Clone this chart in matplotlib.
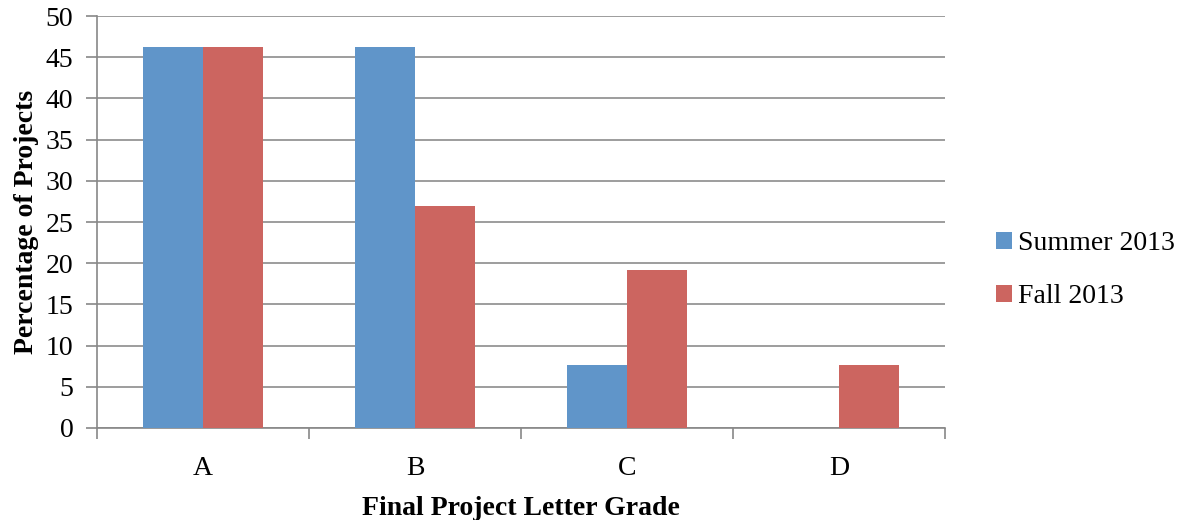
import matplotlib.pyplot as plt
import numpy as np

grades = ['A', 'B', 'C', 'D']
summer_2013 = [46.2, 46.2, 7.7, 0]
fall_2013 = [46.2, 26.9, 19.2, 7.7]

plt.rcParams['font.family'] = ['Liberation Serif', 'DejaVu Serif']

fig = plt.figure(figsize=(11.8, 5.2), dpi=100)
ax = fig.add_axes([0.0822, 0.177, 0.7186, 0.792])

x = np.arange(len(grades))
w = 0.283
ax.bar(x - w / 2, summer_2013, w, color='#6095c9', label='Summer 2013', zorder=3)
ax.bar(x + w / 2, fall_2013, w, color='#cc6560', label='Fall 2013', zorder=3)

ax.set_xlim(-0.5, 3.5)
ax.set_ylim(0, 50)
ax.set_yticks(np.arange(0, 51, 5))
ax.set_xticks(x)
ax.set_xticklabels(grades)
ax.set_xticks(np.arange(-0.5, 4, 1), minor=True)
ax.tick_params(axis='x', which='major', length=0, pad=20, labelsize=20)
ax.tick_params(axis='x', which='minor', length=8, direction='out', color='#888888', width=1.2)
ax.tick_params(axis='y', length=8, color='#888888', width=1.2, labelsize=20, pad=9)
ax.grid(axis='y', color='#8c8c8c', linewidth=1.2, zorder=0)

for s in ['top', 'right']:
    ax.spines[s].set_visible(False)
for s in ['left', 'bottom']:
    ax.spines[s].set_color('#888888')
    ax.spines[s].set_linewidth(1.2)

ax.set_xlabel('Final Project Letter Grade', fontsize=20, fontweight='bold', labelpad=11)
ax.set_ylabel('Percentage of Projects', fontsize=20, fontweight='bold', labelpad=5)

ax.legend(loc='center left', bbox_to_anchor=(1.037, 0.383), frameon=False, fontsize=20,
          handlelength=0.6, handleheight=0.6, handletextpad=0.2, labelspacing=1.0,
          borderaxespad=0.3)

fig.savefig('out.png', dpi=100)
